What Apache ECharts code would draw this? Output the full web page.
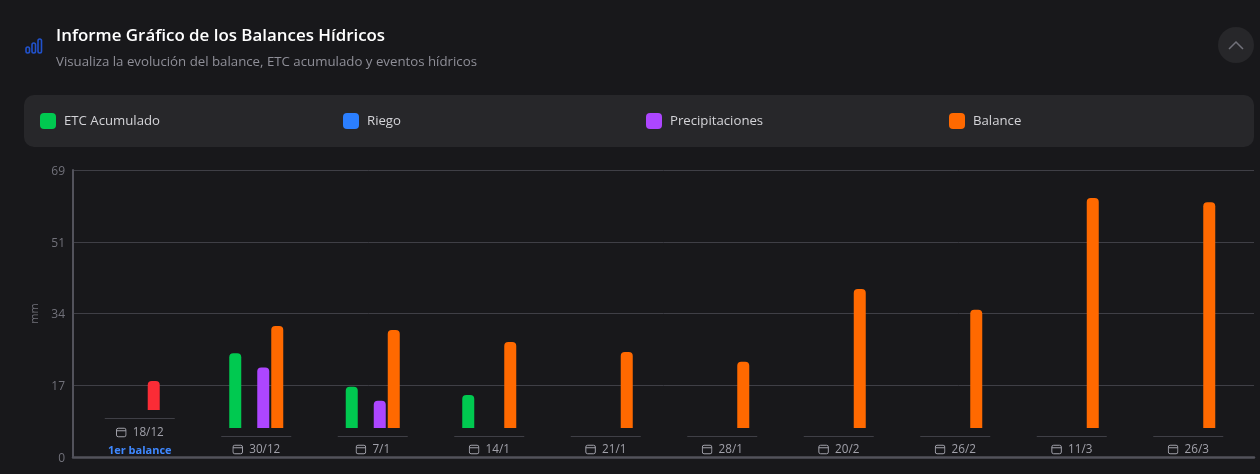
<!DOCTYPE html>
<html><head><meta charset="utf-8">
<script src="https://cdn.jsdelivr.net/npm/echarts@6/dist/echarts.min.js"></script>
<style>html,body{margin:0;padding:0;background:#18181b}#c{width:1260px;height:474px}</style>
</head><body><div id="c"></div>
<script>
const categories = ['18/12','30/12','7/1','14/1','21/1','28/1','20/2','26/2','11/3','26/3'];
const etc = [null,20,11,8.8,null,null,null,null,null,null];
const riego = [null,null,null,null,null,null,null,null,null,null];
const precip = [null,16.2,7.3,null,null,null,null,null,null,null];
const balance = [null,27.3,26.2,23,20.3,17.7,37.2,31.6,61.5,60.4];
const firstBalance = [7.75];
const firstNote = '1er balance';
const yMax = 69;
const yStep = 17.25;

const FONT = '"Open Sans","Noto Sans",sans-serif';
const icon = 'data:image/svg+xml;utf8,' + encodeURIComponent('<svg xmlns="http://www.w3.org/2000/svg" width="22" height="22" viewBox="0 0 22 22"><rect x="1.5" y="2.5" width="19" height="17" rx="3.5" fill="none" stroke="#a1a1aa" stroke-width="2"/><path d="M1.5 7.5H20.5" stroke="#a1a1aa" stroke-width="2"/></svg>');
const legendItem = (name,left) => ({data:[name],left:left,top:108,itemWidth:16,itemHeight:16,icon:'roundRect',
  textStyle:{color:'#d4d4d8',fontSize:13.2,fontFamily:FONT,padding:[0,0,0,3]},selectedMode:false});
const barSeries = (name,data,color) => ({name,type:'bar',xAxisIndex:1,yAxisIndex:1,data,barWidth:12,barGap:'16.67%',
  itemStyle:{color,borderRadius:[4,4,0,0]},silent:true,animation:false});

const chart = echarts.init(document.getElementById('c'),null,{renderer:'canvas'});
chart.setOption({
  animation:false,
  backgroundColor:'#18181b',
  title:[
    {text:'Informe Gráfico de los Balances Hídricos',left:51,top:23,textStyle:{color:'#ffffff',fontSize:16.9,fontWeight:600,fontFamily:FONT}},
    {text:'Visualiza la evolución del balance, ETC acumulado y eventos hídricos',left:51,top:51,textStyle:{color:'#8f8f98',fontSize:13.25,fontWeight:400,fontFamily:FONT}}
  ],
  legend:[legendItem('ETC Acumulado',35),legendItem('Riego',338),legendItem('Precipitaciones',641),legendItem('Balance',944)],
  graphic:[
    {type:'rect',z:-1,shape:{x:24,y:95,width:1230,height:52,r:10},style:{fill:'#27272a'}},
    {type:'circle',shape:{cx:1236,cy:45,r:18},style:{fill:'#27272a'}},
    {type:'polyline',shape:{points:[[1229,49],[1236,42],[1243,49]]},style:{fill:null,stroke:'#71717a',lineWidth:1.5}},
    {type:'rect',shape:{x:26,y:47,width:3.5,height:6,r:1.7},style:{fill:null,stroke:'#2152cc',lineWidth:1.6}},
    {type:'rect',shape:{x:32,y:43,width:3.5,height:10,r:1.7},style:{fill:null,stroke:'#2152cc',lineWidth:1.6}},
    {type:'rect',shape:{x:38,y:39,width:3.5,height:14,r:1.7},style:{fill:null,stroke:'#2152cc',lineWidth:1.6}}
  ],
  grid:[
    {left:73,right:6,top:170,bottom:17},
    {left:81.5,right:13.5,top:170,bottom:46},
    {left:95.5,right:-0.5,top:170,bottom:64}
  ],
  xAxis:[
    {gridIndex:0,type:'value',min:0,max:1,axisLabel:{show:false},axisTick:{show:false},splitLine:{show:false},
      axisLine:{show:true,onZero:false,lineStyle:{color:'#52525b',width:2.5}}},
    {gridIndex:1,type:'category',data:categories,axisLine:{show:false},axisTick:{show:false},
      axisLabel:{interval:0,margin:31,verticalAlign:'bottom',
        formatter:(v,i)=> '{i| }{t|'+v+'}'+(i===0?'\n{b|'+firstNote+'}':''),
        rich:{
          i:{width:11,height:11,backgroundColor:{image:icon}},
          t:{color:'#a1a1aa',fontSize:11.7,fontFamily:FONT,padding:[0,0,0,6],lineHeight:19},
          b:{color:'#3f88ff',fontSize:11,fontWeight:700,fontFamily:FONT,lineHeight:17}
        }}},
    {gridIndex:2,type:'category',data:categories,show:false}
  ],
  yAxis:[
    {gridIndex:0,type:'value',min:0,max:yMax,interval:yStep,name:'mm',nameLocation:'middle',nameGap:28,
      nameTextStyle:{color:'#71717a',fontSize:11,fontFamily:FONT},
      axisLabel:{margin:8,formatter:v=>'{a|'+Math.floor(v)+'}',
        rich:{a:{color:'#71717a',fontSize:12,fontFamily:FONT,padding:[3,0,0,0]}}},
      axisTick:{show:false},axisLine:{show:true,lineStyle:{color:'#52525b',width:2}},
      splitLine:{show:true,lineStyle:{color:'#3f3f46',width:1}}},
    {gridIndex:1,type:'value',min:0,max:yMax,show:false,splitLine:{show:false}},
    {gridIndex:2,type:'value',min:0,max:240/258*yMax,show:false,splitLine:{show:false}}
  ],
  series:[
    barSeries('ETC Acumulado',etc,'#00c950'),
    barSeries('Riego',riego,'#2b7fff'),
    barSeries('Precipitaciones',precip,'#ad46ff'),
    barSeries('Balance',balance,'#ff6900'),
    {name:'Primer balance',type:'bar',xAxisIndex:2,yAxisIndex:2,data:firstBalance,barWidth:12,silent:true,
      itemStyle:{color:'#fb2c36',borderRadius:[4,4,0,0]}},
    {name:'divisores',type:'custom',xAxisIndex:1,yAxisIndex:1,silent:true,
      data:categories.map((c,i)=>[i]),
      encode:{x:0},
      renderItem:(p,api)=>{
        const i=api.value(0), pt=api.coord([i,0]);
        const y=Math.round(pt[1]+(i===0?-10:8))+0.5;
        return {type:'line',shape:{x1:pt[0]-35,y1:y,x2:pt[0]+35,y2:y},style:{stroke:'#3f3f46',lineWidth:1}};
      }}
  ]
});
</script></body></html>
